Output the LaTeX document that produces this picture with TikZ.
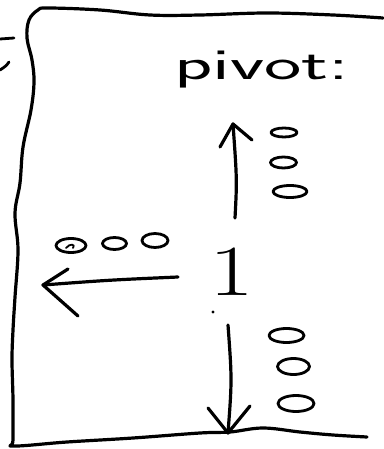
\documentclass[tikz,border=0pt]{standalone}
\begin{document}
\begin{tikzpicture}[x=1pt,y=-1pt,
  pen/.style={line width=3.2pt,line cap=round,line join=round},
  thinpen/.style={line width=2.8pt,line cap=round,line join=round},
  blob/.style={thinpen,draw}]
\useasboundingbox (0,0) rectangle (383,449);

% frame drawn freehand
\draw[pen] plot[smooth,tension=0.6] coordinates {
  (383,18) (333,15) (267,13) (200,15) (150,15) (100,10) (48,8) (38,10)
  (29,20) (27,38) (32,60) (34,82) (31,110) (23,147) (20,183) (15,213)
  (18,250) (15,297) (13,330) (12,360) (13,400) (13,440) (14,446)
  (67,442) (133,438) (200,433) (230,432) (263,428) (300,432) (333,435) (367,437)};

% fragment of a letter at the left edge
\draw[thinpen] (0,39) -- (14,38);
\draw[thinpen] (9,62) .. controls (6,66) .. (0,70);

% label
\node[anchor=base,inner sep=0pt,font=\sffamily\fontsize{44}{44}\selectfont] (piv) at (262,80) {\scalebox{1.8}[1]{pivot:}};

% pivot value
\node[anchor=base,inner sep=0pt,font=\fontsize{72}{72}\selectfont] (one) at (232,295) {\scalebox{1.35}[1]{1}};
\fill (213,312) circle (1.6pt);

% up arrow
\coordinate (upfoot) at (235,218);
\coordinate (uptip) at (233,124);
\draw[pen] (upfoot) .. controls (237,180) .. (uptip);
\draw[pen] (220,147) -- (uptip) -- (252,140);

% left arrow
\coordinate (leftfoot) at (178,277);
\coordinate (lefttip) at (43,285);
\draw[pen] (leftfoot) .. controls (110,280) .. (lefttip);
\draw[pen] (68,269) -- (lefttip) -- (78,316);

% down arrow
\coordinate (downfoot) at (228,325);
\coordinate (downtip) at (228,433);
\draw[pen] (downfoot) .. controls (232,380) .. (downtip);
\draw[pen] (208,408) -- (downtip) -- (250,406);

% elements above the pivot
\draw[blob] (284,132.5) ellipse (13pt and 4.5pt);
\draw[blob] (283.5,162.5) ellipse (13pt and 5.5pt);
\draw[blob] (290,191.5) ellipse (17pt and 6pt);

% elements left of the pivot
\draw[blob] (71,245.5) ellipse (15pt and 7pt);
\draw[thinpen,line width=1.8pt] (66,248) .. controls (70,243) and (76,244) .. (73,248);
\draw[blob] (114.5,243.5) ellipse (12pt and 6pt);
\draw[blob] (155,240.5) ellipse (13pt and 7pt);

% elements below the pivot
\draw[blob] (286.5,335.5) ellipse (17.5pt and 7pt);
\draw[blob] (293.5,366.5) ellipse (16pt and 8pt);
\draw[blob] (296,403.5) ellipse (18pt and 8pt);
\end{tikzpicture}
\end{document}
